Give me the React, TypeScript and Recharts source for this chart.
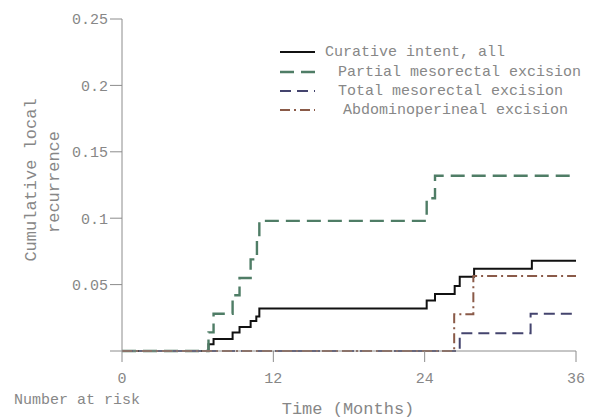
import { LineChart, Line, XAxis, YAxis } from 'recharts';

// step curves (months, cumulative local recurrence)
const allMonths = [0, 6.86, 7.26, 8.77, 9.32, 10.2, 10.65, 10.89, 24.16, 24.82, 26.38, 26.78, 27.92, 32.5, 36];
const allValues = [0, 0.005, 0.009, 0.014, 0.018, 0.0226, 0.026, 0.032, 0.038, 0.043, 0.049, 0.056, 0.062, 0.068, 0.068];

const pmeMonths = [0, 6.86, 7.26, 8.77, 9.32, 10.2, 10.7, 10.89, 24.16, 24.82, 36];
const pmeValues = [0, 0.014, 0.028, 0.042, 0.055, 0.069, 0.083, 0.098, 0.115, 0.132, 0.132];

const tmeMonths = [0, 26.78, 32.4, 36];
const tmeValues = [0, 0.0133, 0.028, 0.028];

const apeMonths = [0, 26.34, 27.86, 36];
const apeValues = [0, 0.0276, 0.0564, 0.0564];

const xTicks = [0, 12, 24, 36];
const yTicks = [0, 0.05, 0.1, 0.15, 0.2, 0.25];

const seriesNames = [
  'Curative intent, all',
  'Partial mesorectal excision',
  'Total mesorectal excision',
  'Abdominoperineal excision',
];

const toRows = (months: number[], values: number[]) =>
  months.map((m, i) => ({ t: m, v: values[i] }));

const FONT = '"Liberation Mono", "DejaVu Sans Mono", monospace';
const GREY = '#878787';
const AXIS = '#8c8c8c';

const colors = ['#111111', '#4f7d66', '#44446e', '#8a5a48'];
const dashes = ['', '14 7', '11 6', '10 4 2 4'];
const widths = [2, 2.4, 2, 2];

function Overlay() {
  const rows = [52, 72, 91, 110];
  const textX = [325, 338, 338, 343];
  return (
    <svg width={592} height={420} style={{ position: 'absolute', left: 0, top: 0, pointerEvents: 'none' }}>
      {rows.map((y, i) => (
        <g key={i}>
          <line x1={280} x2={315} y1={y} y2={y} stroke={colors[i]} strokeWidth={widths[i]} strokeDasharray={dashes[i]} />
          <text x={textX[i]} y={y + 4} fontFamily={FONT} fontSize={15} fill={GREY}>
            {seriesNames[i]}
          </text>
        </g>
      ))}
      <text transform="translate(36,180) rotate(-90)" textAnchor="middle" fontFamily={FONT} fontSize={17} fill={GREY}>
        Cumulative local
      </text>
      <text transform="translate(59,182) rotate(-90)" textAnchor="middle" fontFamily={FONT} fontSize={17} fill={GREY}>
        recurrence
      </text>
      <text x={14} y={404} fontFamily={FONT} fontSize={15} fill={GREY}>
        Number at risk
      </text>
      <text x={348} y={414} textAnchor="middle" fontFamily={FONT} fontSize={17} fill={GREY}>
        Time (Months)
      </text>
    </svg>
  );
}

export default function App() {
  const series = [
    toRows(allMonths, allValues),
    toRows(pmeMonths, pmeValues),
    toRows(tmeMonths, tmeValues),
    toRows(apeMonths, apeValues),
  ];

  return (
    <div style={{ position: 'absolute', left: 0, top: 0, width: 592, height: 420, background: '#fff' }}>
      <LineChart width={592} height={420} margin={{ top: 19, right: 16, bottom: 39, left: 0 }}>
        <XAxis
          type="number"
          dataKey="t"
          domain={[0, 36]}
          ticks={xTicks}
          tickSize={11}
          tickMargin={10}
          height={30}
          stroke={AXIS}
          tick={{ fill: GREY, fontFamily: FONT, fontSize: 15 }}
          allowDuplicatedCategory={false}
        />
        <YAxis
          type="number"
          domain={[0, 0.25]}
          ticks={yTicks}
          width={122}
          tickSize={12}
          tickMargin={2}
          stroke={AXIS}
          tickFormatter={(v: number) => (v === 0 ? '' : String(v))}
          tick={{ fill: GREY, fontFamily: FONT, fontSize: 15 }}
        />
        {series.map((rows, i) => (
          <Line
            key={seriesNames[i]}
            name={seriesNames[i]}
            data={rows}
            dataKey="v"
            type="stepAfter"
            stroke={colors[i]}
            strokeWidth={widths[i]}
            strokeDasharray={dashes[i] || undefined}
            dot={false}
            activeDot={false}
            isAnimationActive={false}
          />
        ))}
      </LineChart>
      <Overlay />
    </div>
  );
}
